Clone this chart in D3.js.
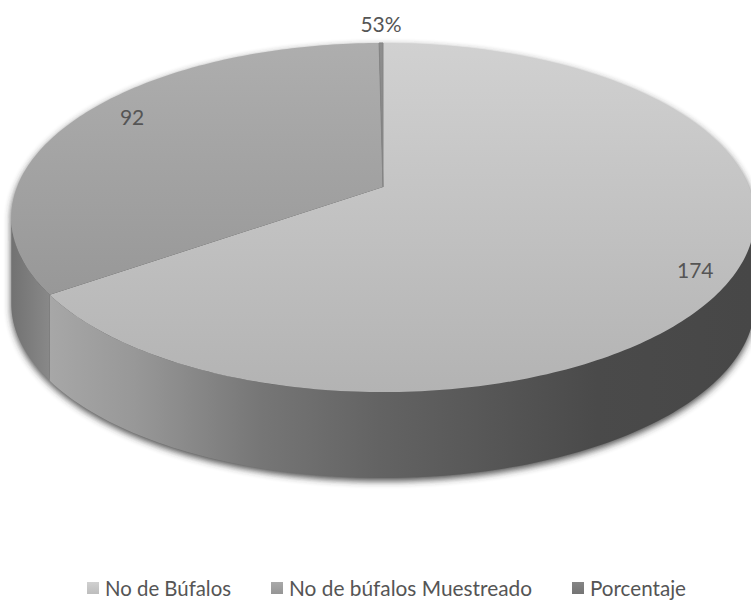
<!DOCTYPE html>
<html>
<head>
<meta charset="utf-8">
<script src="https://cdn.jsdelivr.net/npm/d3@7"></script>
<style>
  html, body { margin: 0; padding: 0; background: #ffffff; }
  svg { display: block; }
  text { font-family: Lato, "Open Sans", "Liberation Sans", sans-serif; fill: #555555; }
</style>
</head>
<body>
<div id="chart"></div>
<script>
// ---- data ----
const categories = ["No de Búfalos", "No de búfalos Muestreado", "Porcentaje"];
const values = [174, 92, 0.53];
const valueLabels = ["174", "92", "53%"];

// ---- styles ----
const W = 751, H = 600;
const topColors = [["#d1d1d1", "#b3b3b3"], ["#aeaeae", "#8f8f8f"], ["#8e8e8e", "#7a7a7a"]];
const legendColors = [["#d0d0d0", "#bdbdbd"], ["#a9a9a9", "#959595"], ["#858585", "#747474"]];

const svg = d3.select("#chart").append("svg").attr("width", W).attr("height", H);
const defs = svg.append("defs");

// projection of the tilted disc (perspective)
const cx = 383, cy = 187, S = 366, sinPhi = 0.4623, cosPhi = 0.8867, dist = 5.072, thick = 86;
function proj(a, r = 1) {
  const u = r * Math.sin(a), D = r * Math.cos(a);
  const v = D * sinPhi, w = D * cosPhi;
  const k = dist / (dist + w);
  return [cx + S * u * k, cy - S * v * k];
}

const pie = d3.pie().sort(null).value(d => d);
const arcs = pie(values);

// find silhouette angles (x extremes) numerically
const aScale = d3.scaleLinear().domain([0, 2000]).range([0, 2 * Math.PI]);
let aMax = 0, aMin = 0, xMax = -1e9, xMin = 1e9;
d3.range(0, 2001).forEach(i => {
  const a = aScale(i), p = proj(a);
  if (p[0] > xMax) { xMax = p[0]; aMax = a; }
  if (p[0] < xMin) { xMin = p[0]; aMin = a; }
});

function rimPoints(a0, a1, n) {
  const pts = [];
  for (let i = 0; i <= n; i++) pts.push(proj(a0 + (a1 - a0) * i / n));
  return pts;
}

// gradients
topColors.forEach((c, i) => {
  const g = defs.append("linearGradient").attr("id", "top" + i)
    .attr("gradientUnits", "userSpaceOnUse").attr("x1", 0).attr("x2", 0).attr("y1", 43).attr("y2", 392);
  g.append("stop").attr("offset", 0).attr("stop-color", c[0]);
  g.append("stop").attr("offset", 1).attr("stop-color", c[1]);
});
const side0 = defs.append("linearGradient").attr("id", "side0")
  .attr("gradientUnits", "userSpaceOnUse").attr("x1", 50).attr("x2", 751).attr("y1", 0).attr("y2", 0);
[[0, "#a7a7a7"], [0.12, "#989898"], [0.3, "#767676"], [0.47, "#636363"], [0.62, "#575757"], [0.78, "#4a4a4a"], [1, "#474747"]]
  .forEach(s => side0.append("stop").attr("offset", s[0]).attr("stop-color", s[1]));
const side1 = defs.append("linearGradient").attr("id", "side1")
  .attr("gradientUnits", "userSpaceOnUse").attr("x1", 12).attr("x2", 52).attr("y1", 0).attr("y2", 0);
side1.append("stop").attr("offset", 0).attr("stop-color", "#727272");
side1.append("stop").attr("offset", 1).attr("stop-color", "#8a8a8a");

const blur = defs.append("filter").attr("id", "shadow").attr("x", "-10%").attr("y", "-10%").attr("width", "120%").attr("height", "130%");
blur.append("feGaussianBlur").attr("stdDeviation", 3.5);

const line = d3.line();

// shadow silhouette
{
  const topRim = rimPoints(0, 2 * Math.PI, 240);
  const bottom = rimPoints(aMax, aMin, 160).map(p => [p[0], p[1] + thick]);
  const sh = svg.append("g").attr("filter", "url(#shadow)").attr("opacity", 0.85).attr("transform", "translate(0,3)");
  sh.append("path").attr("d", line(topRim) + "Z").attr("fill", "#2e2e2e");
  sh.append("path")
    .attr("d", line(rimPoints(aMax, aMin, 160).concat(bottom.slice().reverse())) + "Z")
    .attr("fill", "#2e2e2e");
}

// sides
arcs.forEach((d, i) => {
  const a0 = Math.max(d.startAngle, aMax), a1 = Math.min(d.endAngle, aMin);
  if (a1 <= a0) return;
  const top = rimPoints(a0, a1, 120);
  const bot = top.map(p => [p[0], p[1] + thick]).reverse();
  svg.append("path").attr("d", line(top.concat(bot)) + "Z")
    .attr("fill", "url(#side" + i + ")");
});

// top faces
arcs.forEach((d, i) => {
  const n = Math.max(2, Math.ceil((d.endAngle - d.startAngle) * 60));
  const pts = [[cx, cy]].concat(rimPoints(d.startAngle, d.endAngle, n));
  svg.append("path").attr("d", line(pts) + "Z")
    .attr("fill", "url(#top" + i + ")")
    .attr("stroke", i === 2 ? "#858585" : "none").attr("stroke-width", i === 2 ? 1 : 0);
});

// data labels
const labelR = [0.89, 0.8, 1.0];
const labelShift = [[1, 8], [-6, -12], [0, -19]];
arcs.forEach((d, i) => {
  const mid = (d.startAngle + d.endAngle) / 2;
  const p = proj(mid, labelR[i]);
  svg.append("text")
    .attr("x", p[0] + labelShift[i][0]).attr("y", p[1] + labelShift[i][1])
    .attr("text-anchor", "middle").attr("dominant-baseline", "central")
    .attr("font-size", 21)
    .text(valueLabels[i]);
});

// legend
legendColors.forEach((c, i) => {
  const g = defs.append("linearGradient").attr("id", "leg" + i).attr("x1", 0).attr("x2", 0).attr("y1", 0).attr("y2", 1);
  g.append("stop").attr("offset", 0).attr("stop-color", c[0]);
  g.append("stop").attr("offset", 1).attr("stop-color", c[1]);
});
const legendTextX = [105, 289, 590];
const legendTextW = [126, 243, 96];
const legend = svg.append("g");
categories.forEach((c, i) => {
  legend.append("rect").attr("x", legendTextX[i] - 18).attr("y", 582).attr("width", 12).attr("height", 12)
    .attr("fill", "url(#leg" + i + ")");
  legend.append("text").attr("x", legendTextX[i]).attr("y", 596)
    .attr("font-size", 21)
    .attr("textLength", legendTextW[i]).attr("lengthAdjust", "spacingAndGlyphs")
    .text(c);
});
</script>
</body>
</html>
